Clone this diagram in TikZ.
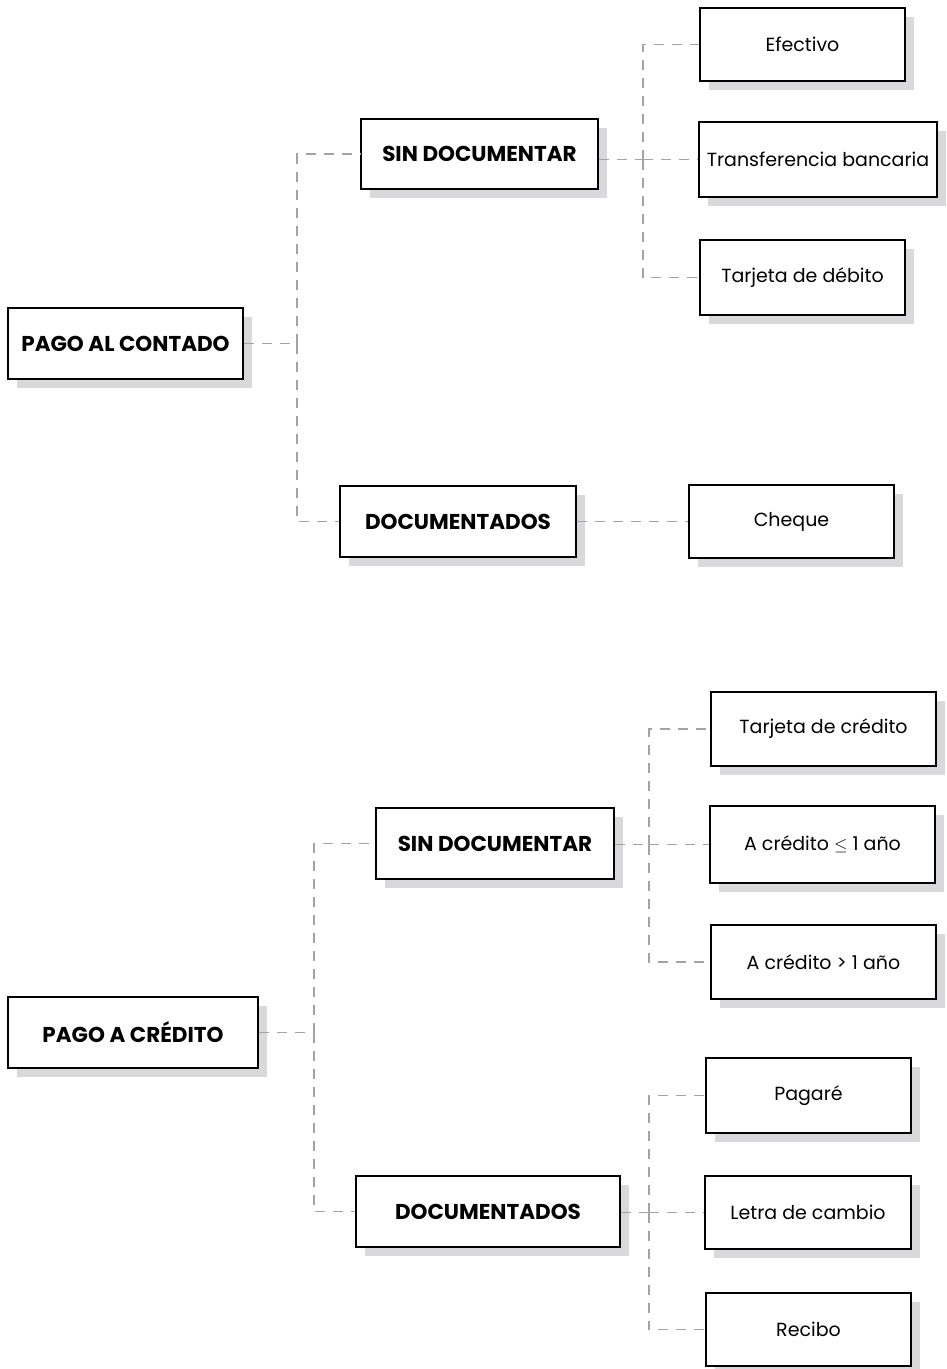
\documentclass[tikz,border=0pt]{standalone}
\usepackage{fontspec}
\setmainfont{Poppins}
\usepackage{tikz}
\usetikzlibrary{shadows}
\definecolor{sombra}{HTML}{D9D9DB}
\definecolor{linea}{HTML}{A3A3A3}

\begin{document}
\begin{tikzpicture}[x=1pt, y=-1pt,
    caja/.style={draw, line width=1.8pt, fill=white, inner sep=0pt,
        minimum height=73pt, font=\fontsize{19}{22}\selectfont,
        drop shadow={shadow xshift=9pt, shadow yshift=-9pt, fill=sombra, opacity=1}},
    titulo/.style={caja, minimum height=71pt, font=\fontsize{21.5}{24}\selectfont\bfseries},
    enlace/.style={draw=linea, line width=1.8pt, dash pattern=on 10pt off 8pt}]

    \useasboundingbox (0,0) rectangle (946,1369);

    % Pago al contado
    \node at (125.5,343.5) (contado) [titulo, minimum width=235pt] {PAGO AL CONTADO};
    \node at (479.5,154) (sindoc1) [titulo, minimum width=237pt, minimum height=70pt] {SIN DOCUMENTAR};
    \node at (458,521.5) (doc1) [titulo, minimum width=236pt] {DOCUMENTADOS};
    \node at (802.5,44.5) (efectivo) [caja, minimum width=205pt] {Efectivo};
    \node at (818,159.5) (transf) [caja, minimum width=238pt, minimum height=75pt] {Transferencia bancaria};
    \node at (802.5,277.5) (debito) [caja, minimum width=205pt, minimum height=75pt] {Tarjeta de débito};
    \node at (791.5,521.5) (cheque) [caja, minimum width=205pt] {Cheque};

    % Pago a credito
    \node at (133,1032.5) (credito) [titulo, minimum width=250pt] {PAGO A CRÉDITO};
    \node at (495,843.5) (sindoc2) [titulo, minimum width=238pt] {SIN DOCUMENTAR};
    \node at (488,1211.5) (doc2) [titulo, minimum width=264pt] {DOCUMENTADOS};
    \node at (823.5,729) (tcredito) [caja, minimum width=225pt, minimum height=74pt] {Tarjeta de crédito};
    \node at (822.5,844.5) (menor) [caja, minimum width=225pt, minimum height=77pt] {A crédito $\leq$ 1 año};
    \node at (823.5,962) (mayor) [caja, minimum width=225pt, minimum height=74pt] {A crédito > 1 año};
    \node at (808.5,1095.5) (pagare) [caja, minimum width=205pt, minimum height=75pt] {Pagaré};
    \node at (808,1212.5) (letra) [caja, minimum width=206pt] {Letra de cambio};
    \node at (808.5,1329.5) (recibo) [caja, minimum width=205pt] {Recibo};

    % Buses
    \coordinate (bus1) at (297,343.5);
    \coordinate (bus2) at (643,159.5);
    \coordinate (bus3) at (314,1032.5);
    \coordinate (bus4) at (649,844.5);
    \coordinate (bus5) at (649,1212.5);

    % Enlaces
    \draw[enlace] (contado.east) -- (bus1);
    \draw[enlace] (bus1) |- (sindoc1.west);
    \draw[enlace] (bus1) |- (doc1.west);
    \draw[enlace] (sindoc1.east |- bus2) -- (bus2);
    \draw[enlace] (bus2) |- (efectivo.west);
    \draw[enlace] (bus2) -- (transf.west);
    \draw[enlace] (bus2) |- (debito.west);
    \draw[enlace] (doc1.east) -- (cheque.west);
    \draw[enlace] (credito.east) -- (bus3);
    \draw[enlace] (bus3) |- (sindoc2.west);
    \draw[enlace] (bus3) |- (doc2.west);
    \draw[enlace] (sindoc2.east |- bus4) -- (bus4);
    \draw[enlace] (bus4) |- (tcredito.west);
    \draw[enlace] (bus4) -- (menor.west);
    \draw[enlace] (bus4) |- (mayor.west);
    \draw[enlace] (doc2.east |- bus5) -- (bus5);
    \draw[enlace] (bus5) |- (pagare.west);
    \draw[enlace] (bus5) -- (letra.west);
    \draw[enlace] (bus5) |- (recibo.west);
\end{tikzpicture}
\end{document}
